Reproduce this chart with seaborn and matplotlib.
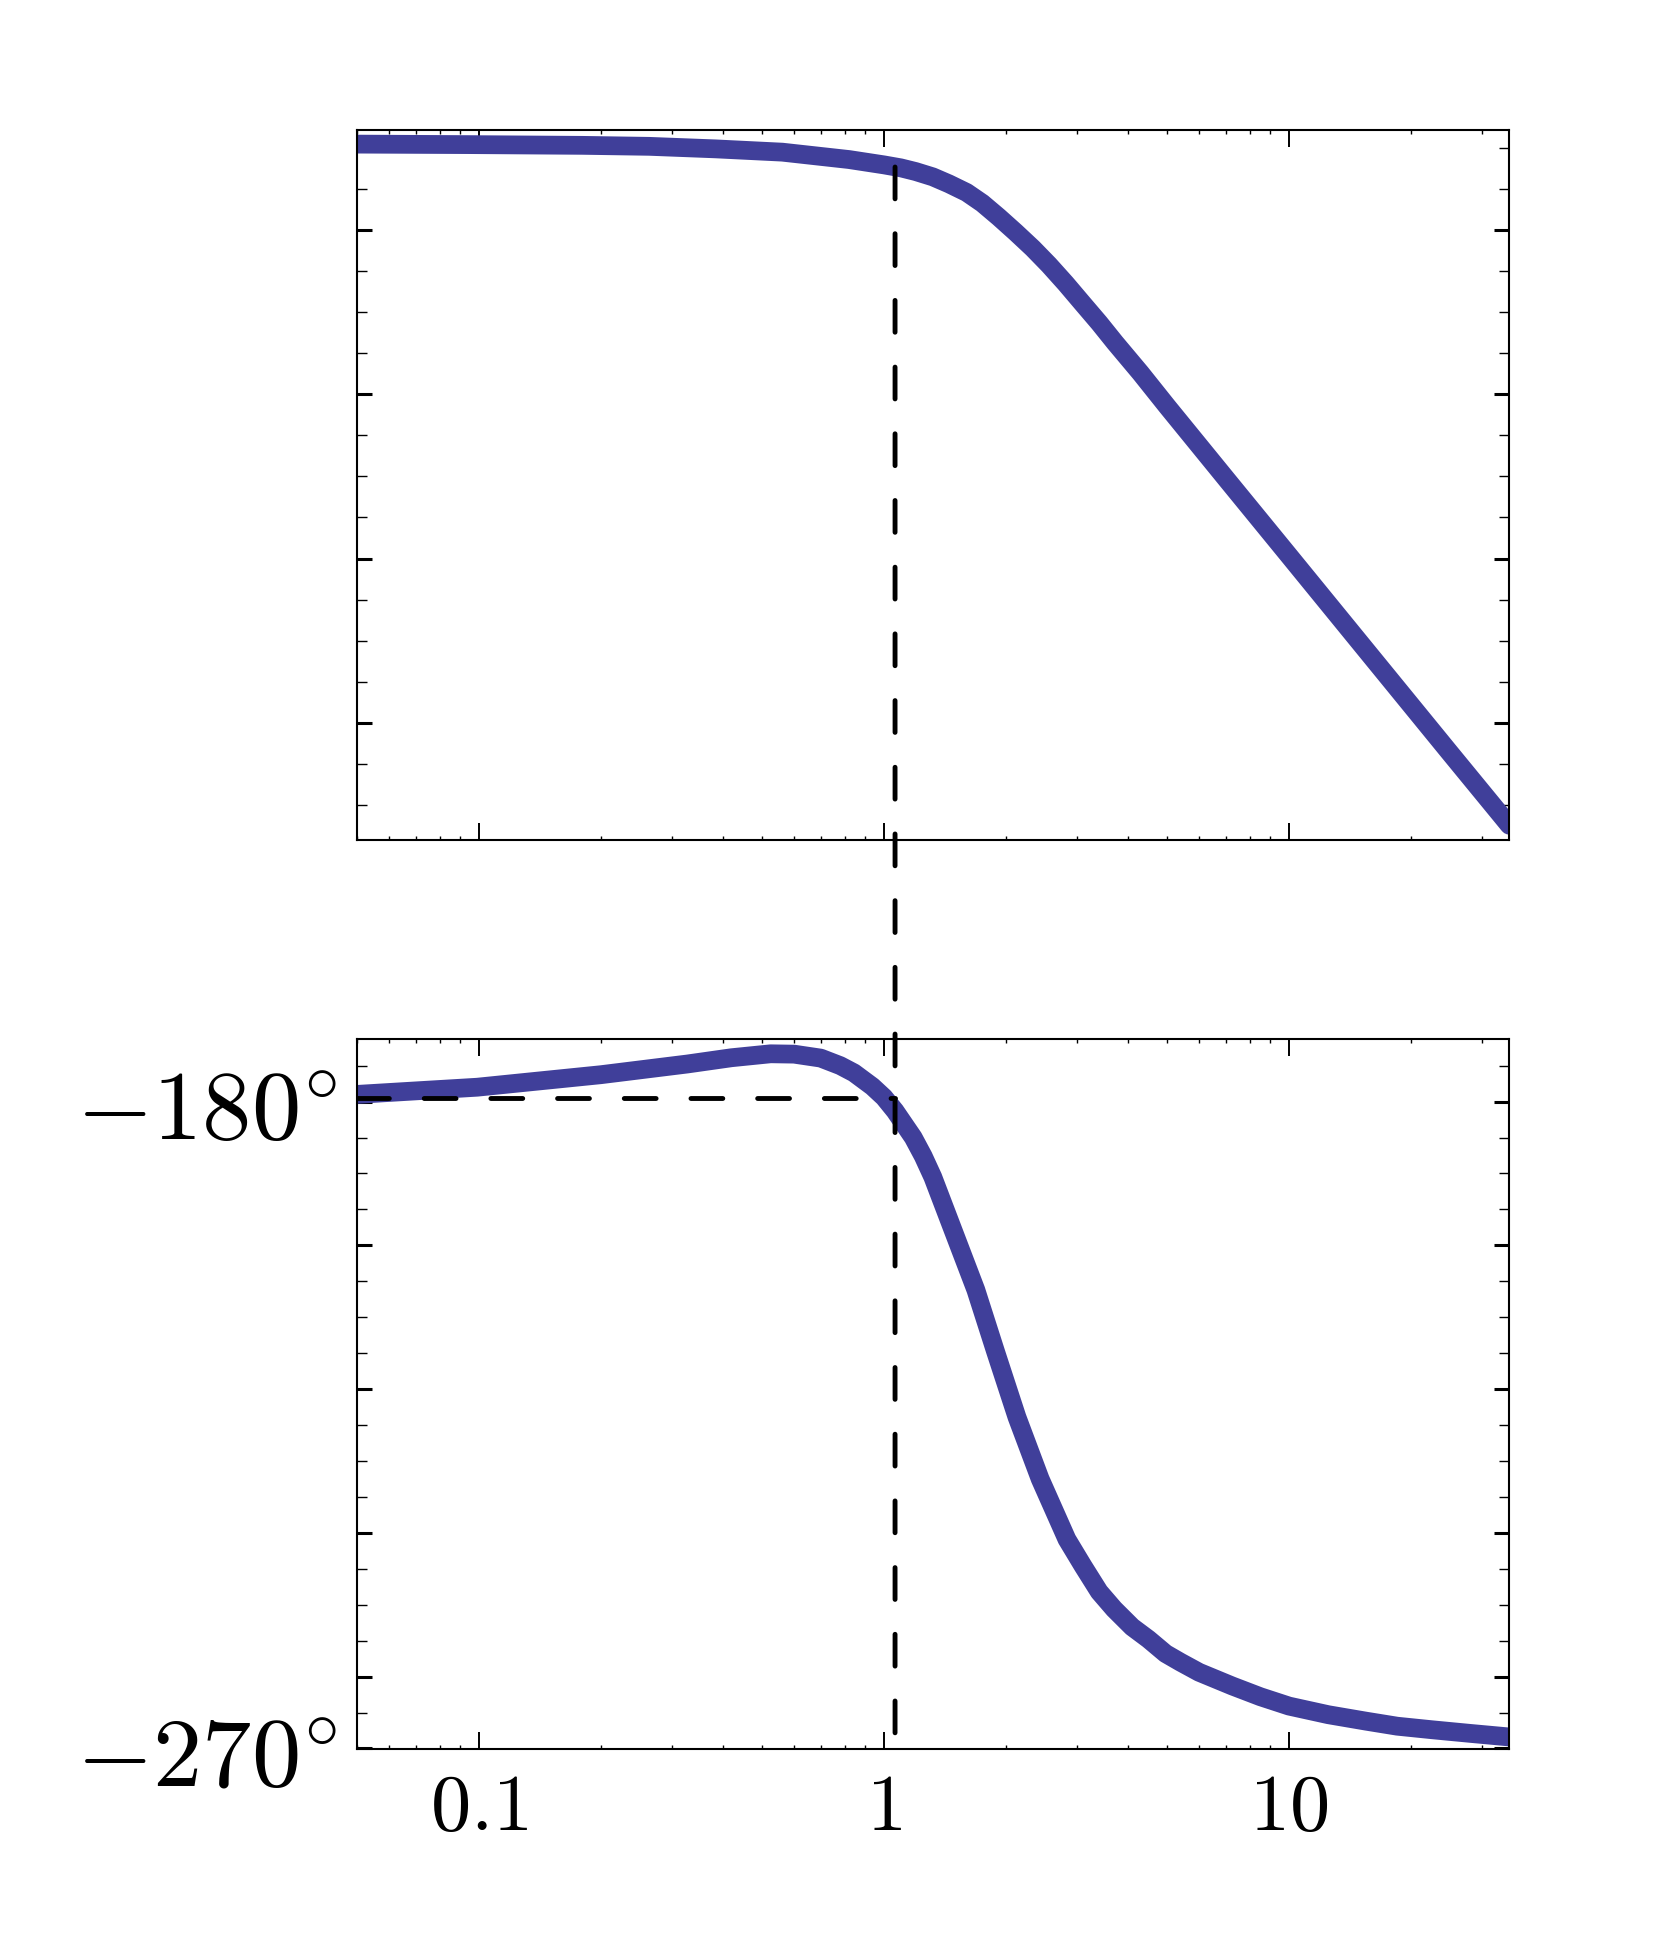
import matplotlib
matplotlib.use("Agg")
import matplotlib.pyplot as plt
import seaborn as sns
from matplotlib.ticker import MultipleLocator, LogLocator, NullFormatter, FixedLocator
from matplotlib.patches import ConnectionPatch

# values (x = frequency, log axis)
mag_freq = [0.05, 0.0945, 0.18, 0.263, 0.384, 0.561, 0.82, 1.0, 1.1, 1.197, 1.32,
            1.447, 1.6, 1.749, 1.92, 2.114, 2.33, 2.555, 2.81, 3.09, 3.4, 3.72,
            4.3, 5.0, 7.0, 10.0, 15.0, 24.8, 35.0]
mag_db = [10.49, 10.43, 10.34, 10.22, 9.91, 9.51, 8.61, 7.96, 7.6, 7.15, 6.5,
          5.65, 4.6, 3.29, 1.6, -0.25, -2.2, -4.23, -6.5, -8.9, -11.3, -13.7,
          -17.4, -21.45, -30.3, -39.65, -50.3, -63.5, -72.5]

phase_freq = [0.05, 0.099, 0.2, 0.327, 0.42, 0.525, 0.6, 0.698, 0.78, 0.843, 0.936,
              1.0, 1.065, 1.181, 1.25, 1.32, 1.507, 1.686, 1.884, 2.13, 2.43, 2.83,
              3.1, 3.4, 3.7, 4.1, 4.5, 4.96, 5.4, 6.0, 7.24, 8.5, 10.0, 12.5, 15.5,
              18.5, 22.6, 28.0, 35.0]
phase_deg = [-179.0, -178.0, -176.26, -174.77, -173.9, -173.35, -173.4, -173.95,
             -175.0, -176.0, -177.9, -179.4, -181.3, -185.0, -187.6, -190.5, -199.0,
             -206.2, -214.7, -223.9, -232.5, -240.9, -244.6, -248.2, -250.6, -253.1,
             -254.8, -256.8, -258.0, -259.4, -261.3, -262.8, -264.1, -265.3, -266.2,
             -266.9, -267.4, -267.9, -268.4]

cross_freq = 1.065
cross_mag = 7.7
ref_phase = -179.5

x_ticks = [0.1, 1, 10]
x_labels = [r"$0.1$", r"$1$", r"$10$"]
phase_ticks = [-270, -260, -240, -220, -200, -180]
phase_labels = [r"$-270^{\circ}$", "", "", "", "", r"$-180^{\circ}$"]

LINE = "#403f9a"

sns.set_style("ticks", rc={"axes.edgecolor": "black", "text.color": "black",
                           "xtick.color": "black", "ytick.color": "black"})
plt.rcParams["mathtext.fontset"] = "cm"
plt.rcParams["font.family"] = ["DejaVu Sans"]

fig = plt.figure(figsize=(16.67, 19.59), dpi=100)
ax1 = fig.add_axes([0.2142, 0.5712, 0.6912, 0.3624])
ax2 = fig.add_axes([0.2142, 0.1071, 0.6912, 0.3625])

sns.lineplot(x=mag_freq, y=mag_db, ax=ax1, color=LINE, linewidth=13.5,
             solid_joinstyle="round", zorder=2)
sns.lineplot(x=phase_freq, y=phase_deg, ax=ax2, color=LINE, linewidth=13.5,
             solid_joinstyle="round", zorder=2)

for ax in (ax1, ax2):
    ax.set_xscale("log")
    ax.set_xlim(0.05, 35)
    ax.xaxis.set_major_locator(FixedLocator(x_ticks))
    ax.xaxis.set_minor_locator(LogLocator(base=10, subs=range(2, 10), numticks=20))
    ax.xaxis.set_minor_formatter(NullFormatter())
    ax.tick_params(axis="x", which="major", direction="in", length=12, width=1.4,
                   top=True, bottom=True)
    ax.tick_params(axis="x", which="minor", direction="in", length=3.2, width=1.0,
                   top=True, bottom=True)
    ax.tick_params(axis="y", which="major", direction="in", length=10.5, width=2.2,
                   left=True, right=True)
    ax.tick_params(axis="y", which="minor", direction="in", length=7, width=1.0,
                   left=True, right=True)
    for sp in ax.spines.values():
        sp.set_linewidth(1.5)
        sp.set_color("black")
        sp.set_visible(True)
    ax.set_xlabel("")
    ax.set_ylabel("")

# magnitude panel: no labels
ax1.set_ylim(-74.3, 12.2)
ax1.yaxis.set_major_locator(MultipleLocator(20))
ax1.yaxis.set_minor_locator(MultipleLocator(5))
ax1.set_xticklabels([])
ax1.set_yticklabels([])

# phase panel
ax2.set_ylim(-270.1, -171.3)
ax2.yaxis.set_major_locator(FixedLocator(phase_ticks))
ax2.yaxis.set_minor_locator(MultipleLocator(5))
ax2.set_yticklabels(phase_labels, fontsize=71)
ax2.set_xticklabels(x_labels, fontsize=58)
ax2.tick_params(axis="y", which="major", pad=14)
ax2.tick_params(axis="x", which="major", pad=14)

dash = (0, (6.55, 7.17))
ax2.plot([0.05, cross_freq], [ref_phase, ref_phase], color="black", lw=3.5,
         linestyle=dash, dash_capstyle="round", zorder=3)

con = ConnectionPatch(xyA=(cross_freq, cross_mag), coordsA=ax1.transData,
                      xyB=(cross_freq, -270.1), coordsB=ax2.transData,
                      arrowstyle="-", shrinkA=0, shrinkB=0, color="black",
                      linewidth=3.5, linestyle=dash, capstyle="round", zorder=5)
fig.add_artist(con)

fig.savefig("out.png", dpi=100)
